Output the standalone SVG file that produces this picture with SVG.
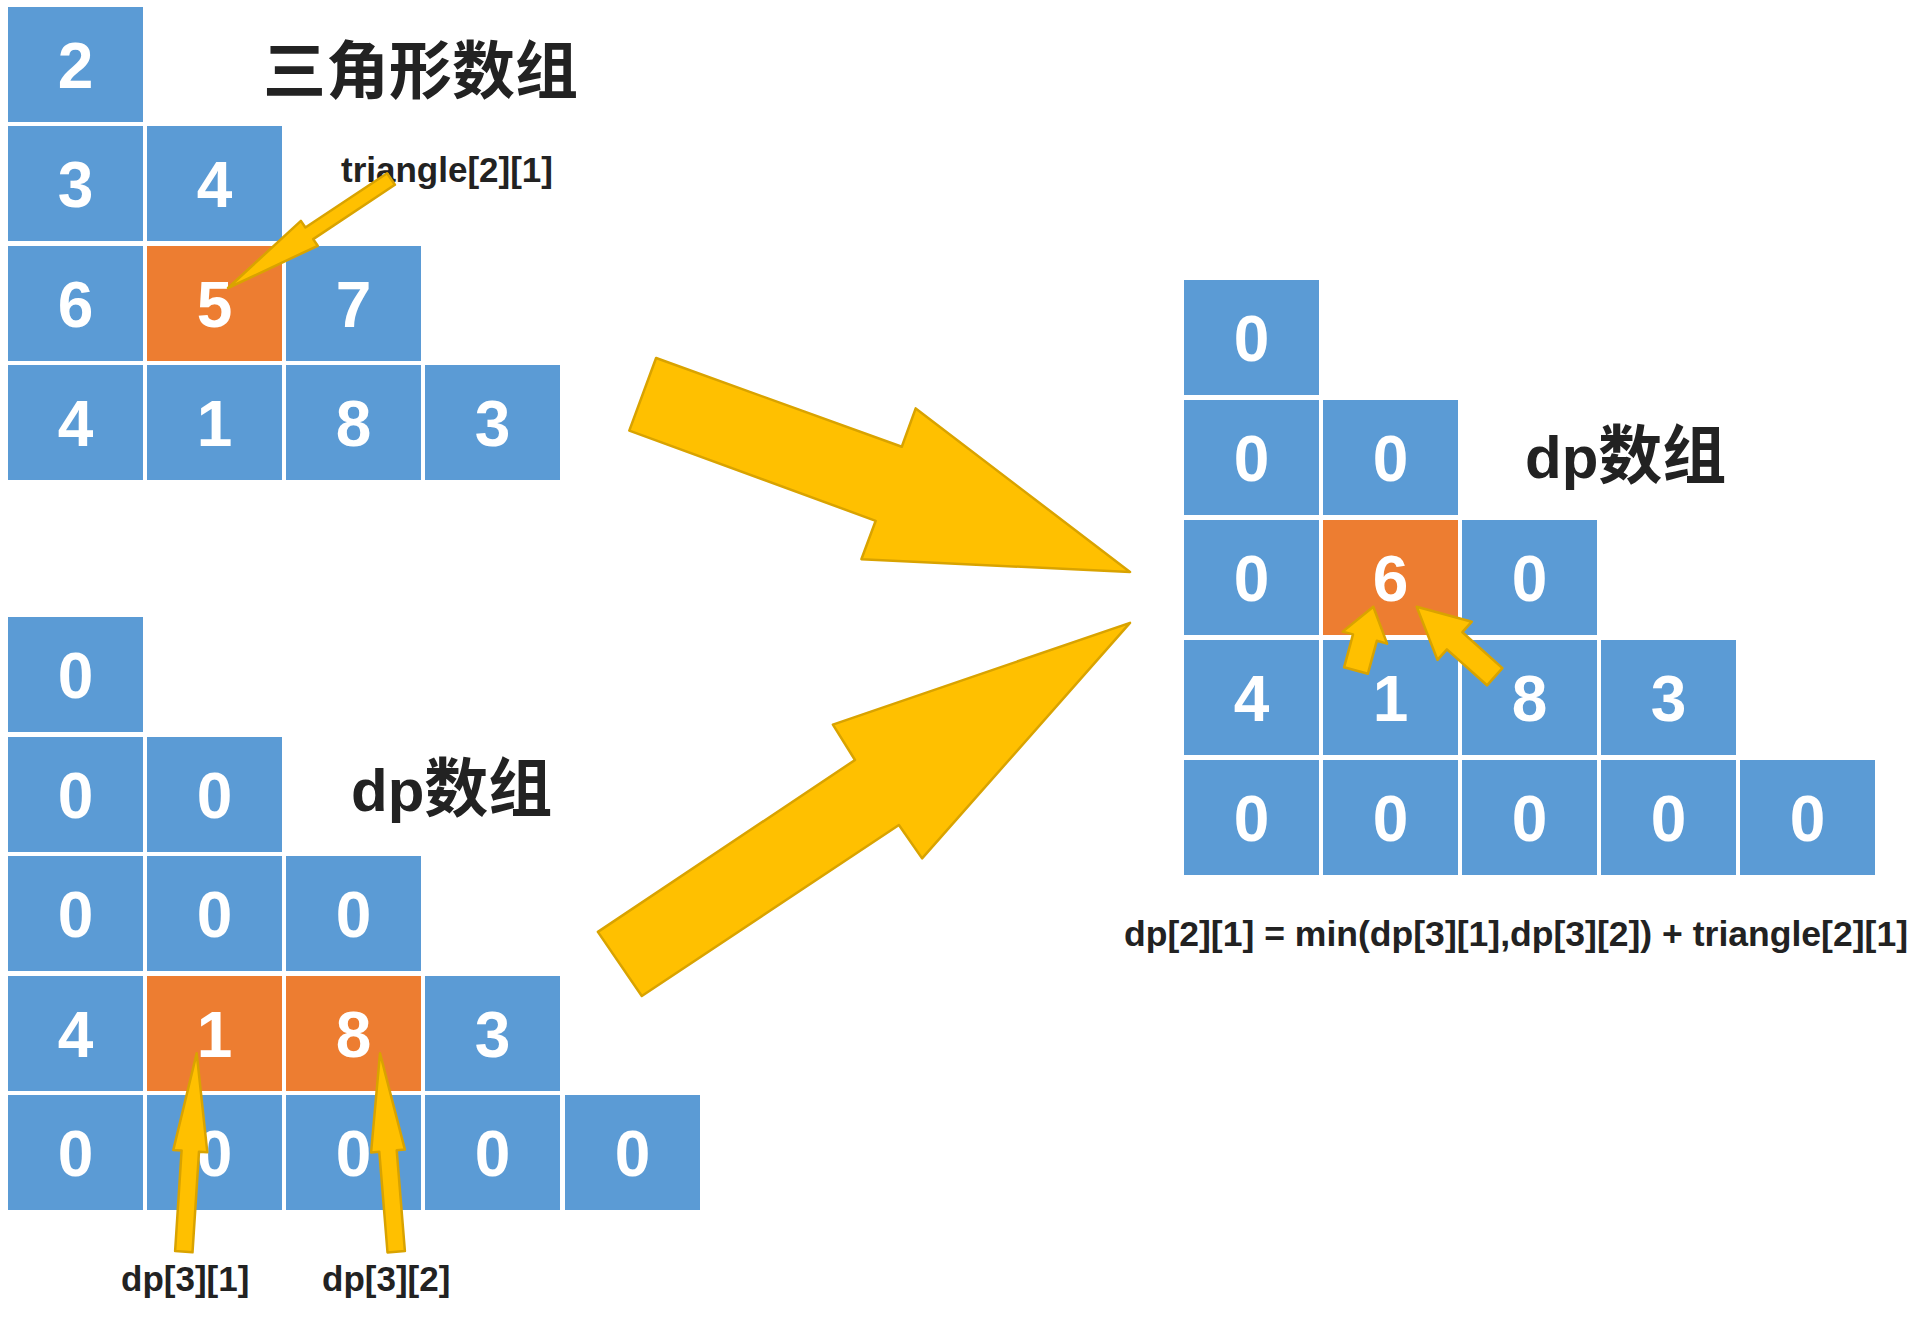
<svg xmlns="http://www.w3.org/2000/svg" width="1924" height="1321" viewBox="0 0 1924 1321">
<style>
.cb{fill:#5B9BD5}
.co{fill:#ED7D31}
.d{font-family:"Liberation Sans",Arial,sans-serif;font-weight:bold;font-size:64px;fill:#fff;text-anchor:middle}
.t{font-family:"Liberation Sans","Noto Sans CJK SC",sans-serif;font-weight:bold;fill:#222}
.l{font-family:"Liberation Sans",Arial,sans-serif;font-weight:bold;font-size:35px;fill:#222}
.arr{fill:#FFC000;stroke:#D9A300;stroke-width:2.5;stroke-linejoin:round}
</style>
<rect width="1924" height="1321" fill="#fff"/>

<!-- Triangle array (top-left) -->
<g id="tri">
<g id="t00"><rect class="cb" x="8" y="7" width="135" height="115"/><text class="d" x="75.5" y="88">2</text></g>
<g id="t10"><rect class="cb" x="8" y="126" width="135" height="115"/><text class="d" x="75.5" y="207">3</text></g>
<g id="t11"><rect class="cb" x="147" y="126" width="135" height="115"/><text class="d" x="214.5" y="207">4</text></g>
<g id="t20"><rect class="cb" x="8" y="246" width="135" height="115"/><text class="d" x="75.5" y="327">6</text></g>
<g id="t21"><rect class="co" x="147" y="246" width="135" height="115"/><text class="d" x="214.5" y="327">5</text></g>
<g id="t22"><rect class="cb" x="286" y="246" width="135" height="115"/><text class="d" x="353.5" y="327">7</text></g>
<g id="t30"><rect class="cb" x="8" y="365" width="135" height="115"/><text class="d" x="75.5" y="446">4</text></g>
<g id="t31"><rect class="cb" x="147" y="365" width="135" height="115"/><text class="d" x="214.5" y="446">1</text></g>
<g id="t32"><rect class="cb" x="286" y="365" width="135" height="115"/><text class="d" x="353.5" y="446">8</text></g>
<g id="t33"><rect class="cb" x="425" y="365" width="135" height="115"/><text class="d" x="492.5" y="446">3</text></g>
</g>
<g id="title-tri"><text class="t" x="263" y="93" font-size="63">三角形数组</text></g>
<g id="label-tri"><text class="l" x="341" y="182" textLength="212" lengthAdjust="spacingAndGlyphs">triangle[2][1]</text></g>

<!-- dp array (bottom-left) -->
<g id="dpA">
<g id="a00"><rect class="cb" x="8" y="617" width="135" height="115"/><text class="d" x="75.5" y="698">0</text></g>
<g id="a10"><rect class="cb" x="8" y="737" width="135" height="115"/><text class="d" x="75.5" y="818">0</text></g>
<g id="a11"><rect class="cb" x="147" y="737" width="135" height="115"/><text class="d" x="214.5" y="818">0</text></g>
<g id="a20"><rect class="cb" x="8" y="856" width="135" height="115"/><text class="d" x="75.5" y="937">0</text></g>
<g id="a21"><rect class="cb" x="147" y="856" width="135" height="115"/><text class="d" x="214.5" y="937">0</text></g>
<g id="a22"><rect class="cb" x="286" y="856" width="135" height="115"/><text class="d" x="353.5" y="937">0</text></g>
<g id="a30"><rect class="cb" x="8" y="976" width="135" height="115"/><text class="d" x="75.5" y="1057">4</text></g>
<g id="a31"><rect class="co" x="147" y="976" width="135" height="115"/><text class="d" x="214.5" y="1057">1</text></g>
<g id="a32"><rect class="co" x="286" y="976" width="135" height="115"/><text class="d" x="353.5" y="1057">8</text></g>
<g id="a33"><rect class="cb" x="425" y="976" width="135" height="115"/><text class="d" x="492.5" y="1057">3</text></g>
<g id="a40"><rect class="cb" x="8" y="1095" width="135" height="115"/><text class="d" x="75.5" y="1176">0</text></g>
<g id="a41"><rect class="cb" x="147" y="1095" width="135" height="115"/><text class="d" x="214.5" y="1176">0</text></g>
<g id="a42"><rect class="cb" x="286" y="1095" width="135" height="115"/><text class="d" x="353.5" y="1176">0</text></g>
<g id="a43"><rect class="cb" x="425" y="1095" width="135" height="115"/><text class="d" x="492.5" y="1176">0</text></g>
<g id="a44"><rect class="cb" x="565" y="1095" width="135" height="115"/><text class="d" x="632.5" y="1176">0</text></g>
</g>
<g id="title-dpA"><text class="t" x="351" y="811" font-size="60">dp<tspan font-size="64">数组</tspan></text></g>
<g id="label-dp31"><text class="l" x="121" y="1291">dp[3][1]</text></g>
<g id="label-dp32"><text class="l" x="322" y="1291">dp[3][2]</text></g>

<!-- dp array (right) -->
<g id="dpB">
<g id="b00"><rect class="cb" x="1184" y="280" width="135" height="115"/><text class="d" x="1251.5" y="361">0</text></g>
<g id="b10"><rect class="cb" x="1184" y="400" width="135" height="115"/><text class="d" x="1251.5" y="481">0</text></g>
<g id="b11"><rect class="cb" x="1323" y="400" width="135" height="115"/><text class="d" x="1390.5" y="481">0</text></g>
<g id="b20"><rect class="cb" x="1184" y="520" width="135" height="115"/><text class="d" x="1251.5" y="601">0</text></g>
<g id="b21"><rect class="co" x="1323" y="520" width="135" height="115"/><text class="d" x="1390.5" y="601">6</text></g>
<g id="b22"><rect class="cb" x="1462" y="520" width="135" height="115"/><text class="d" x="1529.5" y="601">0</text></g>
<g id="b30"><rect class="cb" x="1184" y="640" width="135" height="115"/><text class="d" x="1251.5" y="721">4</text></g>
<g id="b31"><rect class="cb" x="1323" y="640" width="135" height="115"/><text class="d" x="1390.5" y="721">1</text></g>
<g id="b32"><rect class="cb" x="1462" y="640" width="135" height="115"/><text class="d" x="1529.5" y="721">8</text></g>
<g id="b33"><rect class="cb" x="1601" y="640" width="135" height="115"/><text class="d" x="1668.5" y="721">3</text></g>
<g id="b40"><rect class="cb" x="1184" y="760" width="135" height="115"/><text class="d" x="1251.5" y="841">0</text></g>
<g id="b41"><rect class="cb" x="1323" y="760" width="135" height="115"/><text class="d" x="1390.5" y="841">0</text></g>
<g id="b42"><rect class="cb" x="1462" y="760" width="135" height="115"/><text class="d" x="1529.5" y="841">0</text></g>
<g id="b43"><rect class="cb" x="1601" y="760" width="135" height="115"/><text class="d" x="1668.5" y="841">0</text></g>
<g id="b44"><rect class="cb" x="1740" y="760" width="135" height="115"/><text class="d" x="1807.5" y="841">0</text></g>
</g>
<g id="title-dpB"><text class="t" x="1525" y="478" font-size="60">dp<tspan font-size="64">数组</tspan></text></g>
<g id="formula"><text class="l" x="1124" y="946" textLength="784" lengthAdjust="spacingAndGlyphs">dp[2][1] = min(dp[3][1],dp[3][2]) + triangle[2][1]</text></g>

<!-- connectors -->
<g id="connectors">
<polygon class="arr" points="394.9,184.8 313.2,239.1 317.7,245.8 228,288 300.9,220.9 305.4,227.5 387.1,173.2"/>
<polygon class="arr" points="192.5,1252.3 199,1151.7 207.3,1152.2 196.7,1053.3 173.3,1150 181.6,1150.5 175.1,1251.1"/>
<polygon class="arr" points="404.9,1251 396.7,1150.3 404.9,1149.6 380,1053.3 371.1,1152.4 379.3,1151.7 387.5,1252.4"/>
<polygon class="arr" points="1367.9,673.7 1376.8,640.8 1387.1,643.6 1373.3,606.7 1342.7,631.6 1353,634.4 1344.1,667.3"/>
<polygon class="arr" points="1502.4,668.1 1462.4,632.2 1471.8,621.7 1416.7,606.7 1437.5,659.9 1446.9,649.4 1487,685.3"/>
<polygon class="arr" stroke-width="3" points="656.1,358 901.8,446.8 915.7,408.4 1130,572 861.4,559.2 875.7,520.8 629.3,430.6"/>
<polygon class="arr" stroke-width="3" points="597.9,931.9 855,760 832.9,724.6 1130,622.9 922.1,858.4 898.9,825 641.8,996"/>
</g>
</svg>
